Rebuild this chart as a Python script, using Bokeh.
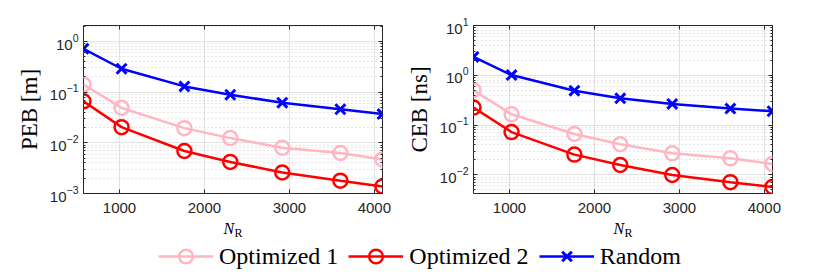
from bokeh.plotting import figure
from bokeh.models import (Range1d, FixedTicker, LogTicker, LogAxis, LinearAxis,
                          Legend, LegendItem, Label, CustomJSTickFormatter)
from bokeh.layouts import column, row
from bokeh.embed import file_html
from bokeh.resources import INLINE

# ---- data ----
n_r = [576, 1024, 1764, 2304, 2916, 3600, 4096]
x_ticks = [1000, 2000, 3000, 4000]

peb_opt1 = [0.142, 0.049, 0.0195, 0.0124, 0.0080, 0.0063, 0.0047]
peb_opt2 = [0.066, 0.0204, 0.0069, 0.0042, 0.0026, 0.00179, 0.00138]
peb_rand = [0.72, 0.29, 0.13, 0.089, 0.062, 0.046, 0.037]

ceb_opt1 = [0.50, 0.164, 0.066, 0.041, 0.027, 0.0214, 0.0165]
ceb_opt2 = [0.224, 0.072, 0.0254, 0.0157, 0.0099, 0.0071, 0.0057]
ceb_rand = [2.33, 1.01, 0.49, 0.344, 0.265, 0.214, 0.189]

series_names = ["Optimized 1", "Optimized 2", "Random"]
series_colors = ["#FFB6C1", "#FF0000", "#0000FF"]
series_markers = ["circle", "circle", "x"]

AX = "#262626"
TICK_FONT = "Liberation Sans"
SERIF = "Liberation Serif"


def style_axis(ax, labels=True, minor=True):
    ax.axis_line_color = None
    ax.major_tick_in = 4
    ax.major_tick_out = 0
    ax.major_tick_line_color = AX
    if minor:
        ax.minor_tick_in = 2
        ax.minor_tick_out = 0
        ax.minor_tick_line_color = AX
    else:
        ax.minor_tick_line_color = None
    ax.major_label_text_font = TICK_FONT
    ax.major_label_text_color = AX
    ax.major_label_text_font_size = "15px"
    if not labels:
        ax.formatter = CustomJSTickFormatter(code="return ''")
        ax.major_label_standoff = 0


def make_panel(ylabel, values, yr, width, bl, br):
    p = figure(width=width, height=220, y_axis_type="log",
               x_range=Range1d(n_r[0], n_r[-1]), y_range=Range1d(*yr),
               output_backend="svg", toolbar_location=None,
               min_border_left=bl, min_border_right=br,
               min_border_top=25, min_border_bottom=27)
    yt = LogTicker(num_minor_ticks=10)
    xt = FixedTicker(ticks=x_ticks)
    p.xaxis.ticker = xt
    p.yaxis.ticker = yt
    style_axis(p.xaxis[0], True, False)
    style_axis(p.yaxis[0], True, True)
    p.xaxis.major_label_standoff = 9
    p.yaxis.major_label_standoff = 5
    p.yaxis.axis_label = ylabel
    p.yaxis.axis_label_text_font = SERIF
    p.yaxis.axis_label_text_font_style = "normal"
    p.yaxis.axis_label_text_font_size = "23px"
    p.yaxis.axis_label_text_color = "#000000"
    p.yaxis.axis_label_standoff = 5

    ra = LogAxis(ticker=yt)
    style_axis(ra, False, True)
    p.add_layout(ra, "right")
    ta = LinearAxis(ticker=xt)
    style_axis(ta, False, False)
    p.add_layout(ta, "above")

    p.outline_line_color = AX
    p.outline_line_width = 1
    p.outline_line_alpha = 1
    p.xgrid.grid_line_color = "#e2e2e2"
    p.xgrid.grid_line_width = 1.2
    p.ygrid.grid_line_color = "#e2e2e2"
    p.ygrid.grid_line_width = 1.2
    p.ygrid.minor_grid_line_color = "#cccccc"
    p.ygrid.minor_grid_line_dash = "1 3"
    p.ygrid.minor_grid_line_width = 1

    for vals, c, m in zip(values, series_colors, series_markers):
        p.line(n_r, vals, line_color=c, line_width=2.5)
        if m == "circle":
            p.scatter(n_r, vals, marker="circle", size=14, line_color=c,
                      fill_color=None, line_width=2.5)
        else:
            p.scatter(n_r, vals, marker="x", size=14, line_color=c,
                      line_width=3)
    return p


p1 = make_panel("PEB [m]", [peb_opt1, peb_opt2, peb_rand], (1e-3, 2.07), 400, 83, 18)
p2 = make_panel("CEB [ns]", [ceb_opt1, ceb_opt2, ceb_rand], (4.2e-3, 10), 420, 73, 48)

# ---- legend / x labels figure ----
lf = figure(width=820, height=55, x_range=Range1d(0, 1), y_range=Range1d(0, 1),
            output_backend="svg", toolbar_location=None,
            x_axis_location=None, y_axis_location=None,
            min_border_left=0, min_border_right=0, min_border_top=0, min_border_bottom=0)
lf.outline_line_color = None
lf.xgrid.visible = False
lf.ygrid.visible = False

items = []
for name, c, m in zip(series_names, series_colors, series_markers):
    # dummy renderers, kept outside the visible range; only used by the legend
    rl = lf.line(x=[5, 6], y=[5, 6], line_color=c, line_width=2.5)
    if m == "circle":
        rs = lf.scatter(x=[5], y=[5], marker="circle", size=14, line_color=c,
                        fill_color=None, line_width=2.5)
    else:
        rs = lf.scatter(x=[5], y=[5], marker="x", size=14, line_color=c, line_width=3)
    items.append(LegendItem(label=name, renderers=[rl, rs]))

leg = Legend(items=items, orientation="horizontal", location=(158, 2),
             glyph_width=55, glyph_height=34, label_standoff=6, spacing=10,
             padding=0, margin=0, border_line_color=None, background_fill_alpha=0,
             label_text_font="serif", label_text_font_size="24px",
             label_text_color="#000000")
lf.add_layout(leg)

for nx in (223, 613):
    lf.add_layout(Label(x=nx, y=47, x_units="screen", y_units="screen", text="N",
                        text_font=SERIF, text_font_style="italic", text_font_size="16px",
                        text_baseline="alphabetic", text_color="#000000"))
    lf.add_layout(Label(x=nx + 11, y=43, x_units="screen", y_units="screen", text="R",
                        text_font=SERIF, text_font_size="12px",
                        text_baseline="alphabetic", text_color="#000000"))

layout = column(row(p1, p2), lf)
open("out.html", "w").write(file_html(layout, INLINE))
